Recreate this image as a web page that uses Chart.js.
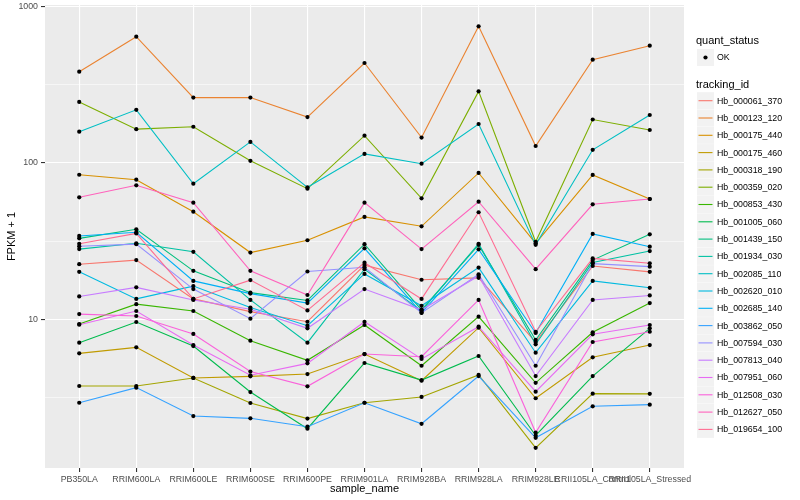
<!DOCTYPE html>
<html>
<head>
<meta charset="utf-8">
<script src="https://cdn.jsdelivr.net/npm/chart.js@4/dist/chart.umd.min.js"></script>
<style>
  body { margin: 0; background: #fff; }
  #wrap { position: relative; width: 800px; height: 500px; }
</style>
</head>
<body>
<div id="wrap"><canvas id="chart" width="800" height="500"></canvas></div>
<script>
// FPKM + 1 per sample, one line per tracking id (log y axis)

const FONT = '"Liberation Sans", Arial, sans-serif'

const categories = ['PB350LA', 'RRIM600LA', 'RRIM600LE', 'RRIM600SE', 'RRIM600PE', 'RRIM901LA',
  'RRIM928BA', 'RRIM928LA', 'RRIM928LE', 'RRII105LA_Control', 'RRII105LA_Stressed']

const trackingIds = ['Hb_000061_370', 'Hb_000123_120', 'Hb_000175_440', 'Hb_000175_460', 'Hb_000318_190',
  'Hb_000359_020', 'Hb_000853_430', 'Hb_001005_060', 'Hb_001439_150', 'Hb_001934_030',
  'Hb_002085_110', 'Hb_002620_010', 'Hb_002685_140', 'Hb_003862_050', 'Hb_007594_030',
  'Hb_007813_040', 'Hb_007951_060', 'Hb_012508_030', 'Hb_012627_050', 'Hb_019654_100']

// ggplot default hue palette, 20 levels
const hueColors = ['#F8766D', '#EA8331', '#D89000', '#C09B00', '#A3A500', '#7CAE00', '#39B600', '#00BB4E',
  '#00BF7D', '#00C1A3', '#00BFC4', '#00BAE0', '#00B0F6', '#35A2FF', '#9590FF', '#C77CFF',
  '#E76BF3', '#FA62DB', '#FF62BC', '#FF6C91']

// values read per sample, same order as categories
const hb000061_370 = [22.5, 23.9, 13.5, 11.2, 9.65, 22.2, 17.9, 18.4, 7.16, 21.9, 20.1]
const hb000123_120 = [382, 639, 261, 261, 196, 434, 145, 745, 128, 456, 560]
const hb000175_440 = [83.9, 78.0, 48.7, 26.7, 32.0, 45.1, 39.3, 86.1, 30.6, 83.6, 58.7]
const hb000175_460 = [6.06, 6.62, 4.22, 4.32, 4.47, 6.0, 4.05, 8.84, 3.13, 5.72, 6.85]
const hb000318_190 = [3.75, 3.75, 4.22, 2.92, 2.32, 2.93, 3.19, 4.41, 1.51, 3.35, 3.34]
const hb000359_020 = [245, 164, 170, 103, 68.3, 149, 59.3, 286, 31.3, 189, 162]
const hb000853_430 = [9.33, 12.5, 11.3, 7.3, 5.47, 9.2, 5.05, 10.4, 3.93, 8.26, 12.7]
const hb001005_060 = [7.09, 9.61, 6.75, 3.43, 2.0, 5.26, 4.09, 5.83, 1.81, 4.34, 8.76]
const hb001439_150 = [32.9, 37.6, 20.4, 14.8, 13.2, 30.2, 11.5, 29.9, 7.38, 23.9, 34.9]
const hb001934_030 = [28.1, 30.6, 27.0, 13.3, 7.09, 20.9, 11.3, 30.4, 6.92, 23.1, 27.3]
const hb002085_110 = [158, 218, 73.5, 136, 69.7, 114, 98.7, 177, 29.9, 121, 202]
const hb002620_010 = [20.1, 13.5, 16.3, 11.9, 9.1, 19.5, 12.2, 21.4, 6.12, 17.6, 15.9]
const hb002685_140 = [34.1, 36.0, 17.6, 14.6, 12.7, 28.4, 11.0, 28.0, 8.18, 35.1, 29.1]
const hb003862_050 = [2.93, 3.66, 2.41, 2.33, 2.06, 2.93, 2.15, 4.34, 1.75, 2.78, 2.85]
const hb007594_030 = [29.3, 30.2, 15.6, 10.1, 20.2, 21.5, 11.0, 19.4, 5.05, 22.7, 21.7]
const hb007813_040 = [14.0, 16.0, 13.3, 11.6, 8.76, 15.6, 11.5, 18.9, 4.34, 13.3, 14.2]
const hb007951_060 = [9.24, 11.3, 6.85, 4.39, 5.23, 9.65, 5.58, 8.97, 3.45, 8.02, 9.2]
const hb012508_030 = [10.8, 10.5, 8.06, 4.64, 3.73, 6.0, 5.77, 13.3, 1.89, 7.16, 8.33]
const hb012627_050 = [60.2, 71.8, 55.6, 20.4, 14.3, 55.6, 28.1, 56.4, 20.9, 54.3, 58.7]
const hb019654_100 = [30.4, 35.4, 13.5, 17.8, 11.4, 23.0, 13.5, 48.3, 8.33, 24.5, 22.8]

const seriesValues = [hb000061_370, hb000123_120, hb000175_440, hb000175_460, hb000318_190,
  hb000359_020, hb000853_430, hb001005_060, hb001439_150, hb001934_030,
  hb002085_110, hb002620_010, hb002685_140, hb003862_050, hb007594_030,
  hb007813_040, hb007951_060, hb012508_030, hb012627_050, hb019654_100]

const yMajor = [10, 100, 1000]
const yMinor = [Math.pow(10, 0.5), Math.pow(10, 1.5), Math.pow(10, 2.5)]
const quantStatus = ['OK']

const isMajor = v => yMajor.some(m => Math.abs(m - v) < 1e-6)

const lineSets = trackingIds.map((id, i) => ({
  type: 'line',
  label: id,
  data: seriesValues[i].map((v, j) => ({ x: j + 1, y: v })),
  borderColor: hueColors[i],
  borderWidth: 1.1,
  pointRadius: 0,
  fill: false,
  tension: 0,
  order: trackingIds.length - i + 1
}))

const pointSet = {
  type: 'scatter',
  label: quantStatus[0],
  data: seriesValues.flatMap(vals => vals.map((v, j) => ({ x: j + 1, y: v }))),
  backgroundColor: '#000',
  borderWidth: 0,
  pointRadius: 2.1,
  order: 0
}

const panelBg = {
  id: 'panelBg',
  beforeDraw(chart) {
    const { ctx, chartArea: a } = chart
    ctx.save()
    ctx.fillStyle = '#EBEBEB'
    ctx.fillRect(a.left, a.top, a.right - a.left, a.bottom - a.top)
    ctx.restore()
  }
}

const extras = {
  id: 'extras',
  afterDraw(chart) {
    const { ctx, chartArea: a } = chart
    ctx.save()
    ctx.fillStyle = '#000'
    ctx.font = `11px ${FONT}`
    ctx.textAlign = 'center'
    ctx.textBaseline = 'middle'
    ctx.fillText('sample_name', (a.left + a.right) / 2, 489)
    ctx.save()
    ctx.translate(12, (a.top + a.bottom) / 2)
    ctx.rotate(-Math.PI / 2)
    ctx.fillText('FPKM + 1', 0, 0)
    ctx.restore()

    // legend
    const lx = 696
    ctx.textAlign = 'left'
    ctx.font = `11px ${FONT}`
    ctx.fillText('quant_status', lx, 41)
    ctx.fillStyle = '#F2F2F2'
    ctx.fillRect(697, 49, 17, 17)
    ctx.fillStyle = '#000'
    ctx.beginPath()
    ctx.arc(705.5, 57.5, 2.1, 0, Math.PI * 2)
    ctx.fill()
    ctx.font = `8.8px ${FONT}`
    ctx.fillText(quantStatus[0], 717, 58)

    ctx.font = `11px ${FONT}`
    ctx.fillText('tracking_id', lx, 84.5)
    ctx.font = `8.8px ${FONT}`
    trackingIds.forEach((id, i) => {
      const cy = 100.7 + i * 17.3
      ctx.fillStyle = '#F2F2F2'
      ctx.fillRect(697, cy - 8.5, 17, 17)
      ctx.strokeStyle = hueColors[i]
      ctx.lineWidth = 1.1
      ctx.beginPath()
      ctx.moveTo(698.5, cy)
      ctx.lineTo(712.5, cy)
      ctx.stroke()
      ctx.fillStyle = '#000'
      ctx.fillText(id, 717, cy + 0.5)
    })
    ctx.restore()
  }
}

new Chart(document.getElementById('chart'), {
  data: { datasets: [pointSet, ...lineSets] },
  options: {
    responsive: false,
    animation: false,
    layout: { padding: { left: 0, right: 116, top: 5, bottom: 0 } },
    plugins: { legend: { display: false }, tooltip: { enabled: false } },
    scales: {
      x: {
        type: 'linear',
        min: 0.4,
        max: 11.6,
        afterBuildTicks: s => { s.ticks = categories.map((c, i) => ({ value: i + 1 })) },
        afterFit: s => { s.height = 32; s.paddingLeft = 0; s.paddingRight = 0 },
        ticks: {
          callback: (v, i) => categories[i],
          color: '#4D4D4D',
          font: { size: 8.8, family: FONT },
          autoSkip: false,
          maxRotation: 0,
          minRotation: 0,
          padding: 2
        },
        grid: { color: '#FFFFFF', lineWidth: 1.1, tickLength: 4, tickColor: '#333333' },
        border: { display: false }
      },
      y: {
        type: 'logarithmic',
        min: 1.122,
        max: 1019,
        afterBuildTicks: s => { s.ticks = [...yMinor, ...yMajor].sort((p, q) => p - q).map(v => ({ value: v })) },
        afterFit: s => { s.width = 45; s.paddingTop = 0; s.paddingBottom = 0 },
        ticks: {
          callback: v => (isMajor(v) ? String(Math.round(v)) : ''),
          color: '#4D4D4D',
          font: { size: 8.8, family: FONT },
          padding: 3
        },
        grid: {
          color: '#FFFFFF',
          lineWidth: c => (c.tick && isMajor(c.tick.value) ? 1.1 : 0.55),
          tickLength: 4,
          tickColor: c => (c.tick && isMajor(c.tick.value) ? '#333333' : 'rgba(0,0,0,0)')
        },
        border: { display: false }
      }
    }
  },
  plugins: [panelBg, extras]
})
</script>
</body>
</html>
